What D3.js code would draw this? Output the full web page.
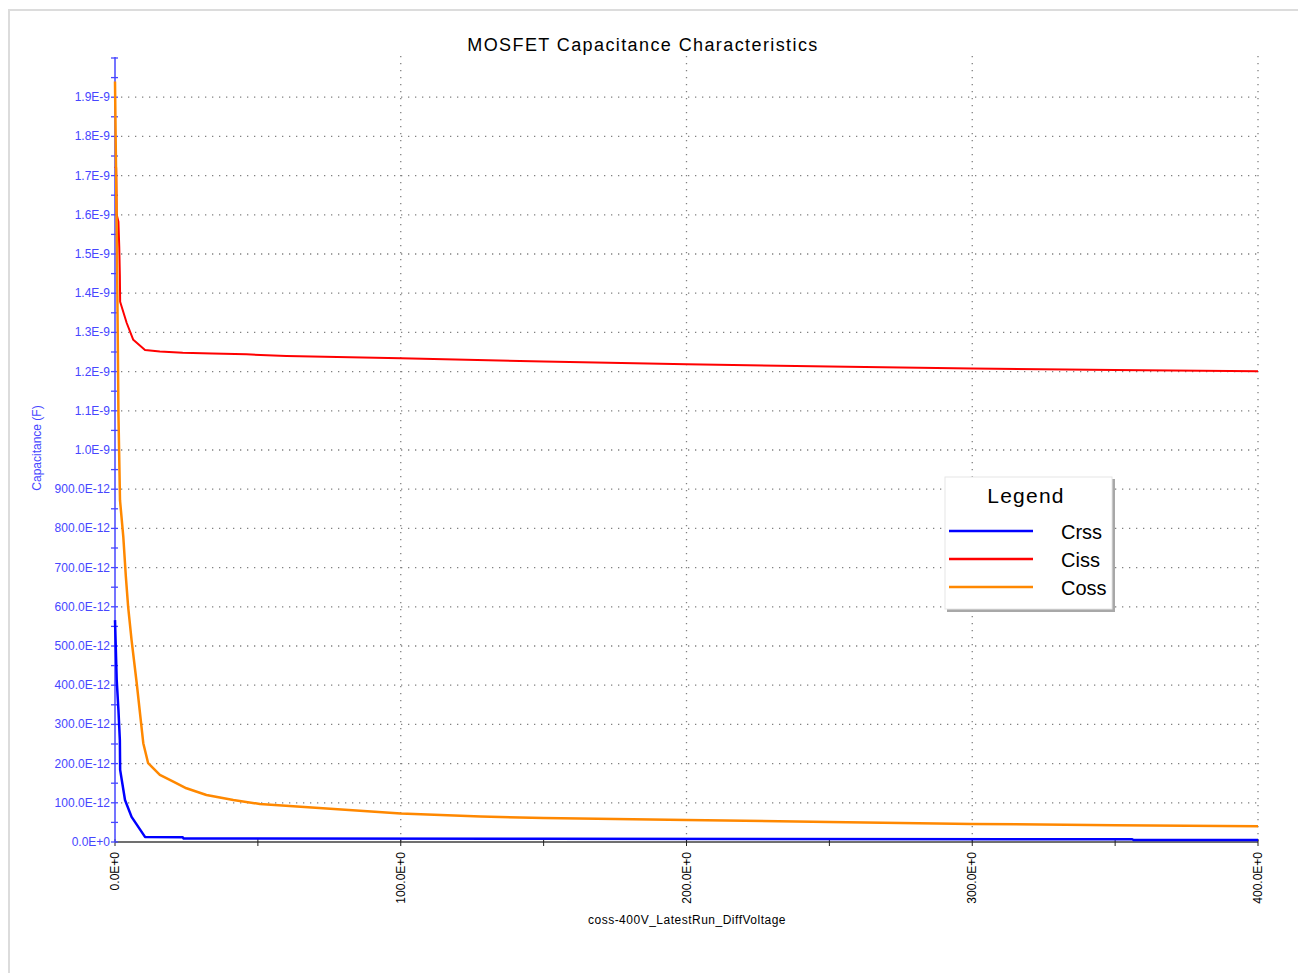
<!DOCTYPE html>
<html>
<head>
<meta charset="utf-8">
<script src="https://cdn.jsdelivr.net/npm/d3@7"></script>
<style>
  body { margin: 0; background: #fff; }
  svg { font-family: "Liberation Sans", Arial, sans-serif; }
</style>
</head>
<body>
<svg id="chart" width="1298" height="973"></svg>
<script>
// voltage (V), capacitance (F)
const crss = [
  [0, 0.566e-9], [0.3, 0.49e-9], [0.6, 0.413e-9], [1.2, 0.337e-9], [1.7, 0.26e-9],
  [1.8, 0.184e-9], [3.5, 0.107e-9], [5.8, 0.064e-9], [10.5, 0.013e-9], [23.7, 0.012e-9],
  [24, 0.009e-9], [150, 0.008e-9], [356, 0.007e-9], [356.5, 0.005e-9], [400, 0.005e-9]
];
const ciss = [
  [0, 1.723e-9], [0.4, 1.72e-9], [0.6, 1.6e-9], [1.2, 1.582e-9], [1.5, 1.515e-9],
  [1.7, 1.446e-9], [1.8, 1.378e-9], [4.1, 1.324e-9], [6.4, 1.281e-9], [10.5, 1.255e-9],
  [15.7, 1.251e-9], [23.7, 1.248e-9], [34, 1.246e-9], [46, 1.244e-9], [60, 1.24e-9],
  [100, 1.234e-9], [150, 1.226e-9], [200, 1.219e-9], [250, 1.213e-9], [300, 1.208e-9],
  [350, 1.204e-9], [400, 1.201e-9]
];
const coss = [
  [0, 1.94e-9], [0.7, 1.5e-9], [1.2, 1.094e-9], [1.75, 0.872e-9], [2.9, 0.779e-9],
  [3.8, 0.677e-9], [4.6, 0.6e-9], [5.8, 0.515e-9], [7.6, 0.405e-9], [9.9, 0.252e-9],
  [11.6, 0.201e-9], [15.7, 0.171e-9], [20.4, 0.154e-9], [25, 0.137e-9], [32, 0.12e-9],
  [41.4, 0.107e-9], [50.7, 0.097e-9], [100, 0.073e-9], [128, 0.065e-9], [150, 0.061e-9],
  [200, 0.056e-9], [250, 0.051e-9], [300, 0.046e-9], [350, 0.043e-9], [400, 0.04e-9]
];

const seriesNames = ["Crss", "Ciss", "Coss"];
const seriesColors = ["#0000ff", "#ff0000", "#ff8800"];

const yTickValues = [0, 0.1e-9, 0.2e-9, 0.3e-9, 0.4e-9, 0.5e-9, 0.6e-9, 0.7e-9, 0.8e-9, 0.9e-9,
  1.0e-9, 1.1e-9, 1.2e-9, 1.3e-9, 1.4e-9, 1.5e-9, 1.6e-9, 1.7e-9, 1.8e-9, 1.9e-9];
const yTickLabels = ["0.0E+0", "100.0E-12", "200.0E-12", "300.0E-12", "400.0E-12", "500.0E-12",
  "600.0E-12", "700.0E-12", "800.0E-12", "900.0E-12", "1.0E-9", "1.1E-9", "1.2E-9", "1.3E-9",
  "1.4E-9", "1.5E-9", "1.6E-9", "1.7E-9", "1.8E-9", "1.9E-9"];
const xTickValues = [0, 100, 200, 300, 400];
const xTickLabels = ["0.0E+0", "100.0E+0", "200.0E+0", "300.0E+0", "400.0E+0"];

const svg = d3.select("#chart");
const plotLeft = 115, plotRight = 1258, plotTop = 58, plotBottom = 842;

const x = d3.scaleLinear().domain([0, 400]).range([plotLeft, plotRight]);
const y = d3.scaleLinear().domain([0, 2.0e-9]).range([plotBottom, plotTop]);

// outer frame
svg.append("rect")
    .attr("x", 9).attr("y", 10)
    .attr("width", 1300).attr("height", 980)
    .attr("fill", "none")
    .attr("stroke", "#dcdcdc")
    .attr("stroke-width", 2);

// title
svg.append("text")
    .attr("x", 643).attr("y", 51)
    .attr("text-anchor", "middle")
    .attr("font-size", 18)
    .attr("letter-spacing", 1.4)
    .attr("fill", "#000")
    .text("MOSFET Capacitance Characteristics");

// grid
const grid = svg.append("g")
    .attr("stroke", "#808080")
    .attr("stroke-width", 1.3)
    .attr("stroke-dasharray", "1.3 5.7");

grid.selectAll("line.h")
    .data(yTickValues.filter(d => d > 0))
    .enter().append("line")
    .attr("x1", plotLeft + 6).attr("x2", plotRight)
    .attr("y1", d => y(d)).attr("y2", d => y(d));

grid.selectAll("line.v")
    .data(xTickValues.filter(d => d > 0))
    .enter().append("line")
    .attr("x1", d => x(d)).attr("x2", d => x(d))
    .attr("y1", plotTop - 2).attr("y2", plotBottom);

// x axis
const xAxis = svg.append("g");
xAxis.append("line")
    .attr("x1", plotLeft).attr("x2", plotRight)
    .attr("y1", plotBottom).attr("y2", plotBottom)
    .attr("stroke", "#404040").attr("stroke-width", 1.5);
xAxis.selectAll("line.tick")
    .data(d3.range(0, 401, 50))
    .enter().append("line")
    .attr("x1", d => x(d)).attr("x2", d => x(d))
    .attr("y1", plotBottom - 3).attr("y2", plotBottom + 4)
    .attr("stroke", "#202020").attr("stroke-width", 1);
xAxis.selectAll("text")
    .data(xTickValues)
    .enter().append("text")
    .attr("transform", d => `translate(${x(d) + 4},${plotBottom + 10}) rotate(-90)`)
    .attr("text-anchor", "end")
    .attr("font-size", 12)
    .attr("fill", "#000")
    .text((d, i) => xTickLabels[i]);

svg.append("text")
    .attr("x", 687).attr("y", 924)
    .attr("text-anchor", "middle")
    .attr("font-size", 12)
    .attr("letter-spacing", 0.5)
    .attr("fill", "#000")
    .text("coss-400V_LatestRun_DiffVoltage");

// y axis
const axisBlue = "#4646ff";
const yAxis = svg.append("g");
yAxis.append("line")
    .attr("x1", plotLeft).attr("x2", plotLeft)
    .attr("y1", plotTop - 1).attr("y2", plotBottom)
    .attr("stroke", axisBlue).attr("stroke-width", 1.5);
yAxis.selectAll("line.tick")
    .data(d3.range(0, 2.0001e-9, 0.05e-9))
    .enter().append("line")
    .attr("x1", plotLeft - 4).attr("x2", plotLeft + 3)
    .attr("y1", d => y(d)).attr("y2", d => y(d))
    .attr("stroke", axisBlue).attr("stroke-width", 1.3);
yAxis.selectAll("text")
    .data(yTickValues)
    .enter().append("text")
    .attr("x", plotLeft - 5)
    .attr("y", d => y(d) + 4)
    .attr("text-anchor", "end")
    .attr("font-size", 12)
    .attr("fill", axisBlue)
    .text((d, i) => yTickLabels[i]);

svg.append("text")
    .attr("transform", "translate(41,448) rotate(-90)")
    .attr("text-anchor", "middle")
    .attr("font-size", 12)
    .attr("fill", axisBlue)
    .text("Capacitance (F)");

// series
const line = d3.line()
    .x(d => x(d[0]))
    .y(d => y(d[1]));

const allSeries = [crss, ciss, coss];
// draw order: Crss first, then Ciss, Coss on top
svg.append("g")
    .selectAll("path")
    .data(allSeries)
    .enter().append("path")
    .attr("d", d => line(d))
    .attr("fill", "none")
    .attr("stroke", (d, i) => seriesColors[i])
    .attr("stroke-width", (d, i) => i === 1 ? 2 : 2.5)
    .attr("stroke-linejoin", "round");

// legend
const lg = svg.append("g").attr("transform", "translate(945,477)");
lg.append("rect")
    .attr("x", 2).attr("y", 2)
    .attr("width", 168).attr("height", 133)
    .attr("fill", "#a8a8a8");
lg.append("rect")
    .attr("x", 0).attr("y", 0)
    .attr("width", 167).attr("height", 132)
    .attr("fill", "#fff")
    .attr("stroke", "#e6e6e6")
    .attr("stroke-width", 1);
lg.append("text")
    .attr("x", 81).attr("y", 26)
    .attr("text-anchor", "middle")
    .attr("font-size", 21)
    .attr("letter-spacing", 1.2)
    .attr("fill", "#000")
    .text("Legend");

const entry = lg.selectAll("g.entry")
    .data(seriesNames)
    .enter().append("g")
    .attr("transform", (d, i) => `translate(0,${54 + i * 28})`);
entry.append("line")
    .attr("x1", 4).attr("x2", 88)
    .attr("y1", 0).attr("y2", 0)
    .attr("stroke", (d, i) => seriesColors[i])
    .attr("stroke-width", 2.5);
entry.append("text")
    .attr("x", 116).attr("y", 8)
    .attr("font-size", 20)
    .attr("fill", "#000")
    .text(d => d);
</script>
</body>
</html>
